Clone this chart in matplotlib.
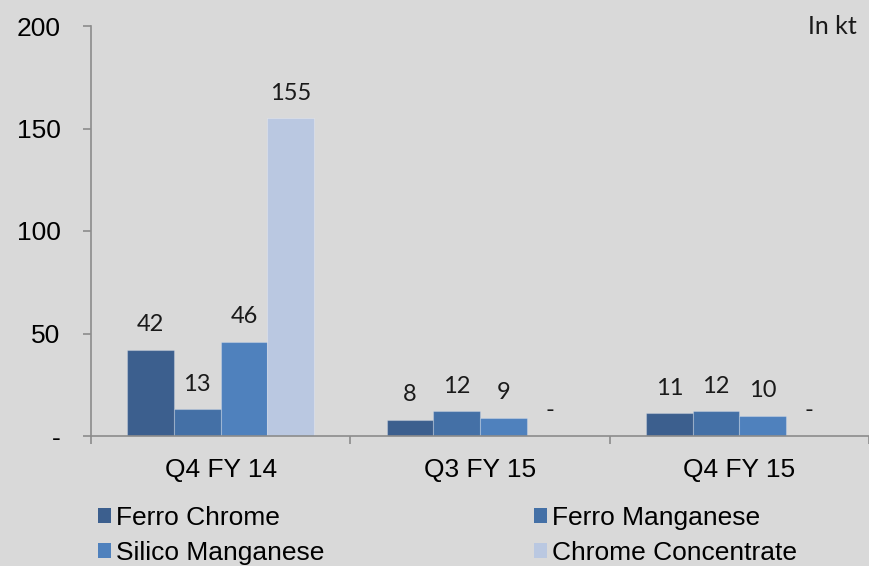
import matplotlib
matplotlib.use("Agg")
import matplotlib.pyplot as plt
import numpy as np

categories = ["Q4 FY 14", "Q3 FY 15", "Q4 FY 15"]
series_names = ["Ferro Chrome", "Ferro Manganese", "Silico Manganese", "Chrome Concentrate"]
ferro_chrome = [42, 8, 11]
ferro_manganese = [13, 12, 12]
silico_manganese = [46, 9, 10]
chrome_concentrate = [155, 0, 0]
yticks = [0, 50, 100, 150, 200]
ytick_labels = ["-", "50", "100", "150", "200"]

series = [ferro_chrome, ferro_manganese, silico_manganese, chrome_concentrate]
colors = ["#3C5F8E", "#4470A6", "#4F81BD", "#BAC8E1"]
bg = "#D9D9D9"
axis_color = "#8C8C8C"

plt.rcParams['font.family'] = ['Liberation Sans', 'DejaVu Sans']

fig = plt.figure(figsize=(8.69, 5.66), dpi=100, facecolor=bg)
ax = fig.add_axes([91/869, (566-436)/566, (869-91)/869, 410/566])
ax.set_facecolor(bg)

x = np.arange(len(categories))
bw = 0.18
handles = []
for i, (vals, name, c) in enumerate(zip(series, series_names, colors)):
    pos = x + (i - 1.5) * bw
    bars = ax.bar(pos, vals, bw, color=c, label=name, edgecolor=(1, 1, 1, 0.25), linewidth=0.8, zorder=2)
    handles.append(bars)
    for xp, v in zip(pos, vals):
        ax.annotate("-" if v == 0 else f"{v}", (xp, v), xytext=(0, 13.5), textcoords="offset points",
                    ha="center", va="baseline", fontsize=17, family=["Lato", "DejaVu Sans"], color="#1a1a1a")

ax.set_xlim(-0.5, 2.5)
ax.set_ylim(0, 200)
ax.set_yticks(yticks)
ax.set_yticklabels(ytick_labels, fontsize=19)
ax.set_xticks(x)
ax.set_xticklabels(categories, fontsize=19)
ax.set_xticks([-0.5, 0.5, 1.5, 2.5], minor=True)
ax.tick_params(axis='x', which='major', length=0, pad=16)
ax.tick_params(axis='x', which='minor', length=6, color=axis_color, width=1.2)
ax.tick_params(axis='y', length=6, color=axis_color, width=1.2, pad=16)
for s in ["top", "right"]:
    ax.spines[s].set_visible(False)
for s in ["left", "bottom"]:
    ax.spines[s].set_color(axis_color)
    ax.spines[s].set_linewidth(1.2)

ax.text(857/869, (566-27)/566, "In kt", transform=fig.transFigure, ha="right", va="center",
        fontsize=18, family=["Lato", "DejaVu Sans"], color="#1a1a1a")

order = [0, 2, 1, 3]
leg = fig.legend([handles[k] for k in order], [series_names[k] for k in order],
                 loc="upper left", bbox_to_anchor=(98/869, 1 - 506/566), ncol=2, frameon=False,
                 fontsize=19, handlelength=0.48, handleheight=0.48, handletextpad=0.2,
                 columnspacing=7.95, labelspacing=0.42, borderaxespad=0, borderpad=0)
for h in leg.legend_handles:
    h.set_edgecolor("none")

fig.savefig("out.png", dpi=100, facecolor=bg)
